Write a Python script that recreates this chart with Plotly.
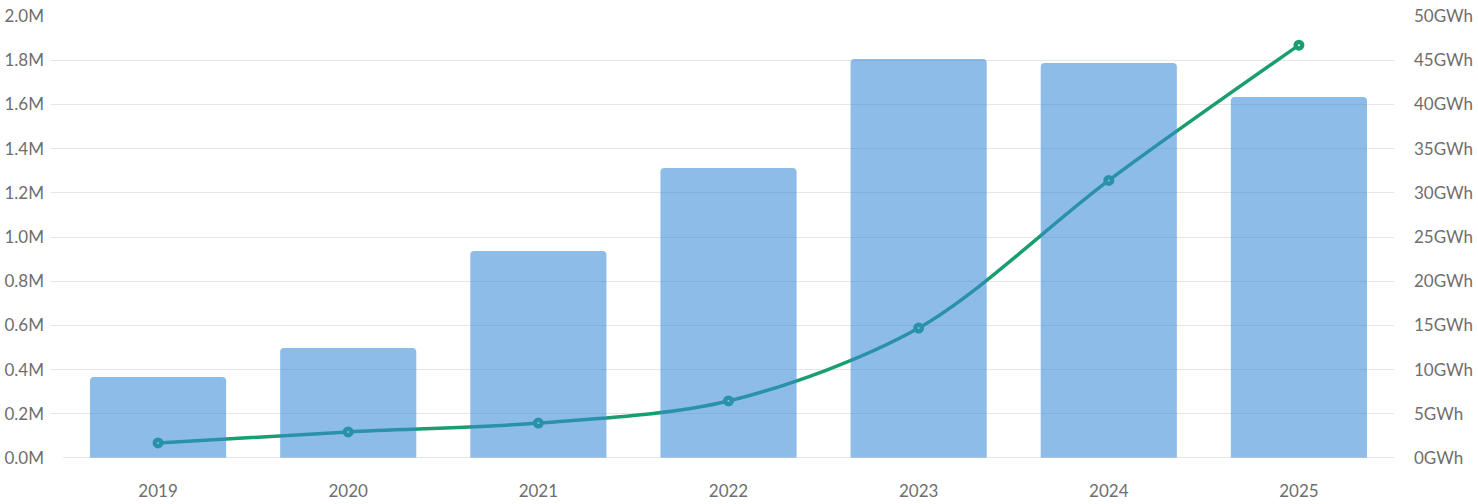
import plotly.graph_objects as go

years = ["2019", "2020", "2021", "2022", "2023", "2024", "2025"]
units_millions = [0.366, 0.498, 0.937, 1.312, 1.805, 1.787, 1.633]
energy_gwh = [1.7, 2.95, 3.95, 6.45, 14.7, 31.4, 46.7]

left_ticks = [0.0, 0.2, 0.4, 0.6, 0.8, 1.0, 1.2, 1.4, 1.6, 1.8, 2.0]
left_labels = [f"{v:.1f}M" for v in left_ticks]
right_ticks = [0, 5, 10, 15, 20, 25, 30, 35, 40, 45, 50]
right_labels = [f"{v}GWh" for v in right_ticks]

FONT = "Lato"
TXT = "#6e6e6e"
GREEN = "#1b9e6f"

fig = go.Figure()

# line first on 'y' (right side) so bars on overlaying y2 are drawn above it
fig.add_trace(go.Scatter(
    x=years, y=energy_gwh, yaxis="y", mode="lines+markers",
    line=dict(color=GREEN, width=3.5, shape="spline", smoothing=0.9),
    marker=dict(symbol="circle", size=6.5, color="white",
                line=dict(color=GREEN, width=4.5)),
    showlegend=False, hoverinfo="skip",
))
fig.add_trace(go.Bar(
    x=years, y=units_millions, yaxis="y2",
    marker=dict(color="rgba(54,135,215,0.56)", cornerradius=4,
                line=dict(width=0)),
    showlegend=False, hoverinfo="skip",
))

fig.add_shape(type="line", xref="x", yref="y2", x0=-0.5, x1=6.5, y0=0, y1=0,
              line=dict(color="#cccccc", width=1), layer="above")

fig.update_layout(
    width=1478, height=504,
    margin=dict(l=51, r=84, t=16, b=46, autoexpand=False),
    paper_bgcolor="white", plot_bgcolor="white",
    font=dict(family=FONT, size=17, color=TXT),
    bargap=0.284,
    xaxis=dict(
        type="category", range=[-0.5 - 12.0 / 190.0, 6.5], automargin=False,
        showgrid=False, zeroline=False, showline=False,
        ticks="", ticklabelstandoff=21,
        tickfont=dict(family=FONT, size=17, color=TXT),
    ),
    yaxis=dict(
        side="right", range=[0, 50], tickvals=right_ticks, ticktext=right_labels,
        automargin=False,
        showgrid=True, gridcolor="#e6e6e6", gridwidth=1.3, zeroline=False,
        showline=False, ticks="", ticklabelstandoff=19,
        tickfont=dict(family=FONT, size=17, color=TXT),
    ),
    yaxis2=dict(
        side="left", overlaying="y", range=[0, 2.0], automargin=False,
        tickvals=left_ticks, ticktext=left_labels,
        showgrid=False, zeroline=False, showline=False, ticks="",
        ticklabelstandoff=6,
        tickfont=dict(family=FONT, size=17, color=TXT),
    ),
)

fig.write_html("out.html")
